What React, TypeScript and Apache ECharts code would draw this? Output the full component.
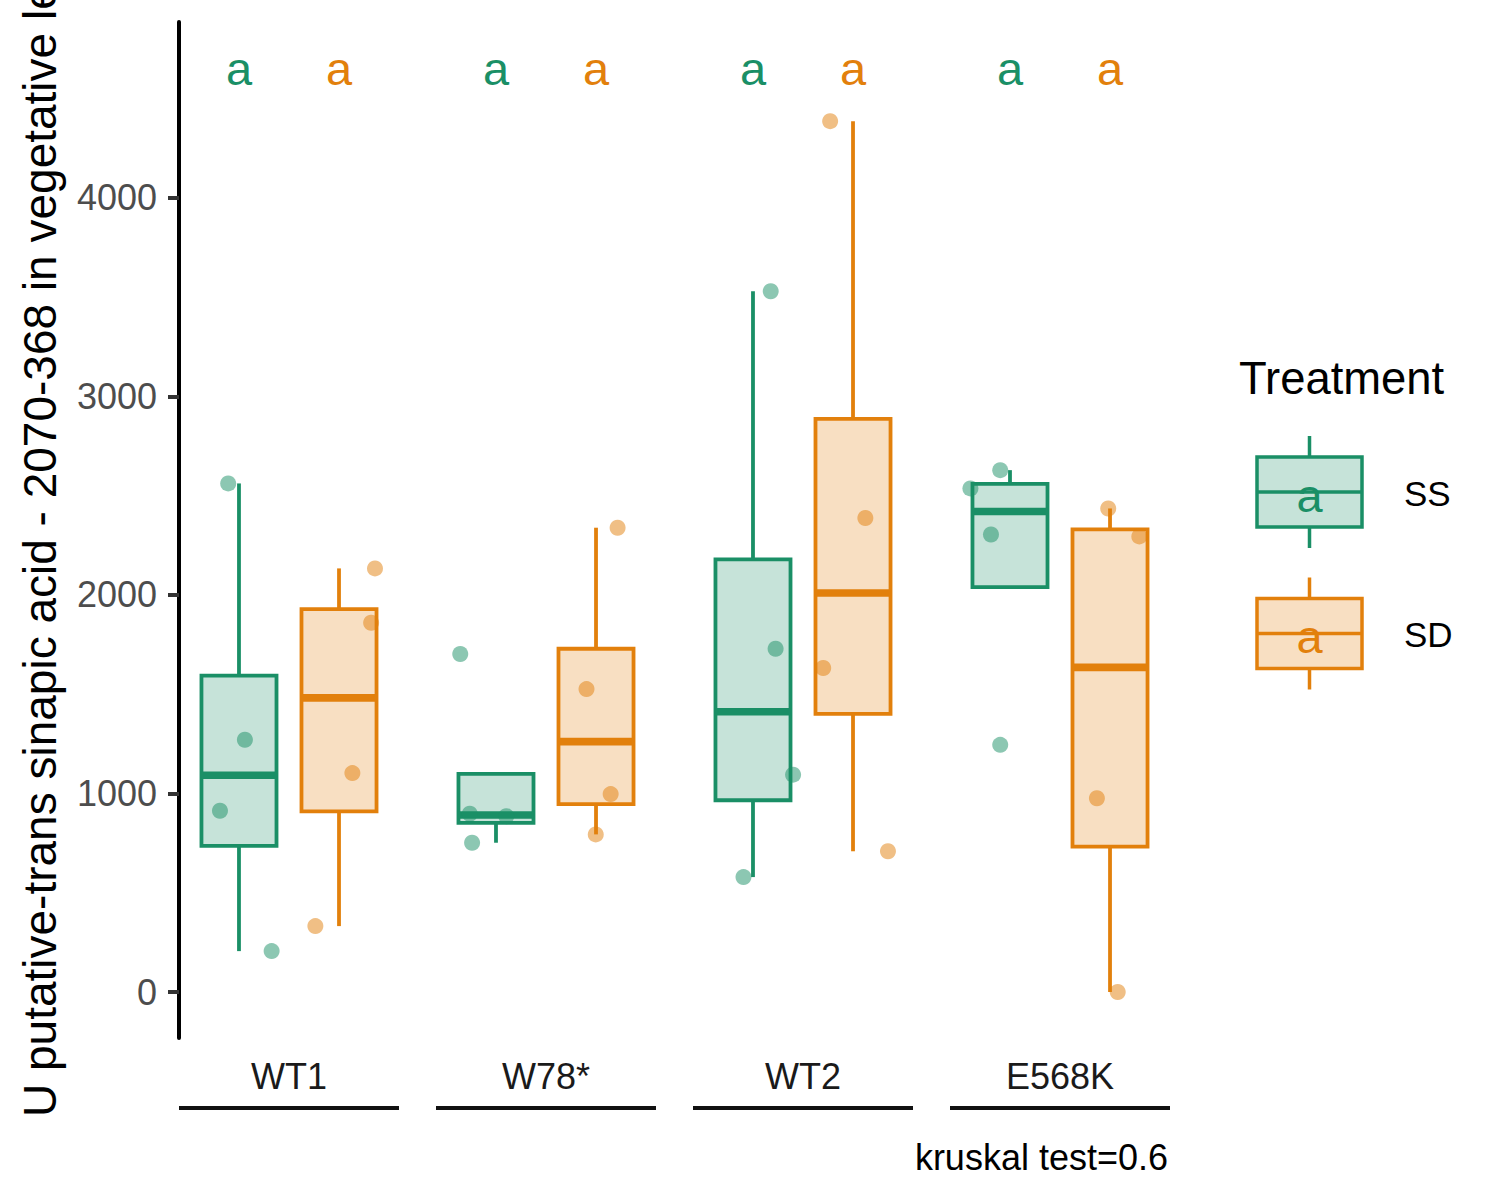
import React, { useEffect, useRef } from "react";
import * as echarts from "echarts";

// ---------------- data ----------------
const categories = ["WT1", "W78*", "WT2", "E568K"];
const treatments = ["SS", "SD"];
const ssValues = [
  [2562, 1271, 913, 206],
  [1703, 898, 886, 752],
  [3530, 1729, 1095, 579],
  [2629, 2537, 2305, 1245],
];
const sdValues = [
  [2134, 1860, 1103, 332],
  [2339, 1526, 997, 794],
  [4387, 2388, 1632, 709],
  [2436, 2295, 976, 0],
];
// horizontal jitter of each point, in category units, relative to its dodged box centre
const ssJitter = [
  [-0.042, 0.023, -0.074, 0.127],
  [-0.139, -0.102, 0.04, -0.093],
  [0.069, 0.088, 0.156, -0.037],
  [-0.038, -0.154, -0.074, -0.038],
];
const sdJitter = [
  [0.14, 0.125, 0.052, -0.092],
  [0.084, -0.037, 0.057, -0.001],
  [-0.089, 0.048, -0.116, 0.136],
  [-0.007, 0.114, -0.051, 0.03],
];
const ssLetters = ["a", "a", "a", "a"];
const sdLetters = ["a", "a", "a", "a"];
const letterY = 4654;
const yTicks = [0, 1000, 2000, 3000, 4000];
const yMin = -231.7;
const yMax = 4886.6;
const xMin = 0.572;
const xMax = 4.428;
const testLabel = "kruskal test=0.6";
const yTitle = "U putative-trans sinapic acid - 2070-368 in vegetative leaves";
const legendTitle = "Treatment";

// ---------------- style ----------------
const GREEN = "#1A8F66";
const ORANGE = "#E2800C";
const GREEN_FILL = "rgba(26,143,102,0.25)";
const ORANGE_FILL = "rgba(226,128,12,0.25)";
const FONT = "'Liberation Sans', Arial, Helvetica, sans-serif";
const DODGE = 0.1946;
const BOX_HALF = 0.146;
const LW = 3.8;
const MLW = 7.6;
const STRIP_HALF = 0.428;

function quantile(sorted: number[], p: number) {
  const h = (sorted.length - 1) * p;
  const lo = Math.floor(h);
  const hi = Math.ceil(h);
  return sorted[lo] + (h - lo) * (sorted[hi] - sorted[lo]);
}

function boxStats(vals: number[]) {
  const s = [...vals].sort((a, b) => a - b);
  const q1 = quantile(s, 0.25);
  const med = quantile(s, 0.5);
  const q3 = quantile(s, 0.75);
  const iqr = q3 - q1;
  const inside = s.filter((v) => v >= q1 - 1.5 * iqr && v <= q3 + 1.5 * iqr);
  return { q1, med, q3, lower: Math.min(...inside), upper: Math.max(...inside) };
}

function boxSeries(name: string, values: number[][], dodge: number, color: string, fill: string) {
  return {
    type: "custom",
    name,
    z: 2,
    data: values.map((v, i) => [i + 1 + dodge, boxStats(v).med]),
    renderItem: (params: any, api: any) => {
      const i = params.dataIndex;
      const st = boxStats(values[i]);
      const cx = i + 1 + dodge;
      const [xl, yq3] = api.coord([cx - BOX_HALF, st.q3]);
      const [xr, yq1] = api.coord([cx + BOX_HALF, st.q1]);
      const [xc, ymed] = api.coord([cx, st.med]);
      const yUp = api.coord([cx, st.upper])[1];
      const yLo = api.coord([cx, st.lower])[1];
      const children: any[] = [];
      if (st.upper > st.q3) {
        children.push({ type: "line", shape: { x1: xc, y1: yq3, x2: xc, y2: yUp }, style: { stroke: color, lineWidth: LW } });
      }
      if (st.lower < st.q1) {
        children.push({ type: "line", shape: { x1: xc, y1: yq1, x2: xc, y2: yLo }, style: { stroke: color, lineWidth: LW } });
      }
      children.push({
        type: "rect",
        shape: { x: xl, y: yq3, width: xr - xl, height: yq1 - yq3 },
        style: { fill, stroke: color, lineWidth: LW },
      });
      children.push({ type: "line", shape: { x1: xl, y1: ymed, x2: xr, y2: ymed }, style: { stroke: color, lineWidth: MLW } });
      return { type: "group", children };
    },
  };
}

function pointSeries(name: string, values: number[][], jitter: number[][], dodge: number, color: string) {
  const data: number[][] = [];
  values.forEach((vals, i) => vals.forEach((v, j) => data.push([i + 1 + dodge + jitter[i][j], v])));
  return {
    type: "scatter",
    name,
    z: 3,
    symbol: "circle",
    symbolSize: 16,
    data,
    itemStyle: { color, opacity: 0.5 },
    silent: true,
  };
}

function letterSeries(name: string, letters: string[], dodge: number, color: string) {
  return {
    type: "custom",
    name,
    z: 4,
    data: letters.map((l, i) => [i + 1 + dodge, letterY]),
    renderItem: (params: any, api: any) => {
      const i = params.dataIndex;
      const [x, y] = api.coord([i + 1 + dodge, letterY]);
      return {
        type: "text",
        x,
        y,
        style: {
          text: letters[i],
          fill: color,
          font: `47px ${FONT}`,
          align: "center",
          verticalAlign: "middle",
          textAlign: "center",
          textVerticalAlign: "middle",
        },
      };
    },
  };
}

const stripSeries = {
  type: "custom",
  name: "strips",
  z: 1,
  data: categories.map((c, i) => [i + 1, yMin]),
  renderItem: (params: any, api: any) => {
    const i = params.dataIndex;
    const [x1, y] = api.coord([i + 1 - STRIP_HALF, yMin]);
    const [x2] = api.coord([i + 1 + STRIP_HALF, yMin]);
    return {
      type: "line",
      shape: { x1, y1: y + 70, x2, y2: y + 70 },
      style: { stroke: "#111111", lineWidth: 4 },
    };
  },
};

function legendGraphics() {
  const els: any[] = [];
  els.push({
    type: "text",
    x: 1239,
    y: 378,
    style: { text: legendTitle, fill: "#000", font: `45.4px ${FONT}`, textAlign: "left", textVerticalAlign: "middle", align: "left", verticalAlign: "middle" },
  });
  const cols = [GREEN, ORANGE];
  const fills = [GREEN_FILL, ORANGE_FILL];
  const letters = [ssLetters[0], sdLetters[0]];
  treatments.forEach((t, k) => {
    const cy = 492 + 141.5 * k;
    const cx = 1309.5;
    els.push({ type: "line", shape: { x1: cx, y1: cy - 56, x2: cx, y2: cy - 35 }, style: { stroke: cols[k], lineWidth: 3.5 } });
    els.push({ type: "line", shape: { x1: cx, y1: cy + 35, x2: cx, y2: cy + 56 }, style: { stroke: cols[k], lineWidth: 3.5 } });
    els.push({ type: "rect", shape: { x: 1257, y: cy - 35, width: 105, height: 70 }, style: { fill: fills[k], stroke: cols[k], lineWidth: 3.5 } });
    els.push({ type: "line", shape: { x1: 1257, y1: cy, x2: 1362, y2: cy }, style: { stroke: cols[k], lineWidth: 3.5 } });
    els.push({
      type: "text",
      x: cx,
      y: cy + 3,
      style: { text: letters[k], fill: cols[k], font: `47px ${FONT}`, textAlign: "center", textVerticalAlign: "middle", align: "center", verticalAlign: "middle" },
    });
    els.push({
      type: "text",
      x: 1404,
      y: cy + 1,
      style: { text: t, fill: "#000", font: `35px ${FONT}`, textAlign: "left", textVerticalAlign: "middle", align: "left", verticalAlign: "middle" },
    });
  });
  return els;
}

export default function App() {
  const ref = useRef<HTMLDivElement>(null);
  useEffect(() => {
    if (!ref.current) return;
    const chart = echarts.init(ref.current, null, { renderer: "svg" });
    const option: any = {
      animation: false,
      backgroundColor: "#ffffff",
      textStyle: { fontFamily: FONT },
      grid: { left: 179, right: 330, top: 22, bottom: 162, containLabel: false },
      xAxis: {
        type: "value",
        min: xMin,
        max: xMax,
        axisLine: { show: false },
        axisTick: { show: false },
        splitLine: { show: false },
        axisLabel: {
          customValues: [1, 2, 3, 4],
          formatter: (v: number) => categories[Math.round(v) - 1] ?? "",
          fontSize: 36,
          fontFamily: FONT,
          color: "#1A1A1A",
          margin: 20,
        },
      },
      yAxis: {
        type: "value",
        min: yMin,
        max: yMax,
        splitLine: { show: false },
        axisLine: { show: true, lineStyle: { color: "#000000", width: 4 } },
        axisTick: { show: true, customValues: yTicks, length: 11, lineStyle: { color: "#333333", width: 4 } },
        axisLabel: {
          customValues: yTicks,
          formatter: (v: number) => String(Math.round(v)),
          fontSize: 36,
          fontFamily: FONT,
          color: "#4D4D4D",
          margin: 22,
        },
      },
      graphic: [
        {
          type: "text",
          x: 40,
          y: 1117,
          rotation: Math.PI / 2,
          style: { text: yTitle, fill: "#000", font: `46px ${FONT}`, textAlign: "left", textVerticalAlign: "middle", align: "left", verticalAlign: "middle" },
        },
        {
          type: "text",
          x: 1168,
          y: 1157,
          style: { text: testLabel, fill: "#000", font: `36px ${FONT}`, textAlign: "right", textVerticalAlign: "middle", align: "right", verticalAlign: "middle" },
        },
        ...legendGraphics(),
      ],
      series: [
        stripSeries,
        boxSeries("SS", ssValues, -DODGE, GREEN, GREEN_FILL),
        boxSeries("SD", sdValues, DODGE, ORANGE, ORANGE_FILL),
        pointSeries("SS points", ssValues, ssJitter, -DODGE, GREEN),
        pointSeries("SD points", sdValues, sdJitter, DODGE, ORANGE),
        letterSeries("SS letters", ssLetters, -DODGE, GREEN),
        letterSeries("SD letters", sdLetters, DODGE, ORANGE),
      ],
    };
    chart.setOption(option);
    return () => chart.dispose();
  }, []);
  return (
    <div
      ref={ref}
      style={{ position: "fixed", left: 0, top: 0, width: 1500, height: 1200, background: "#fff" }}
    />
  );
}
